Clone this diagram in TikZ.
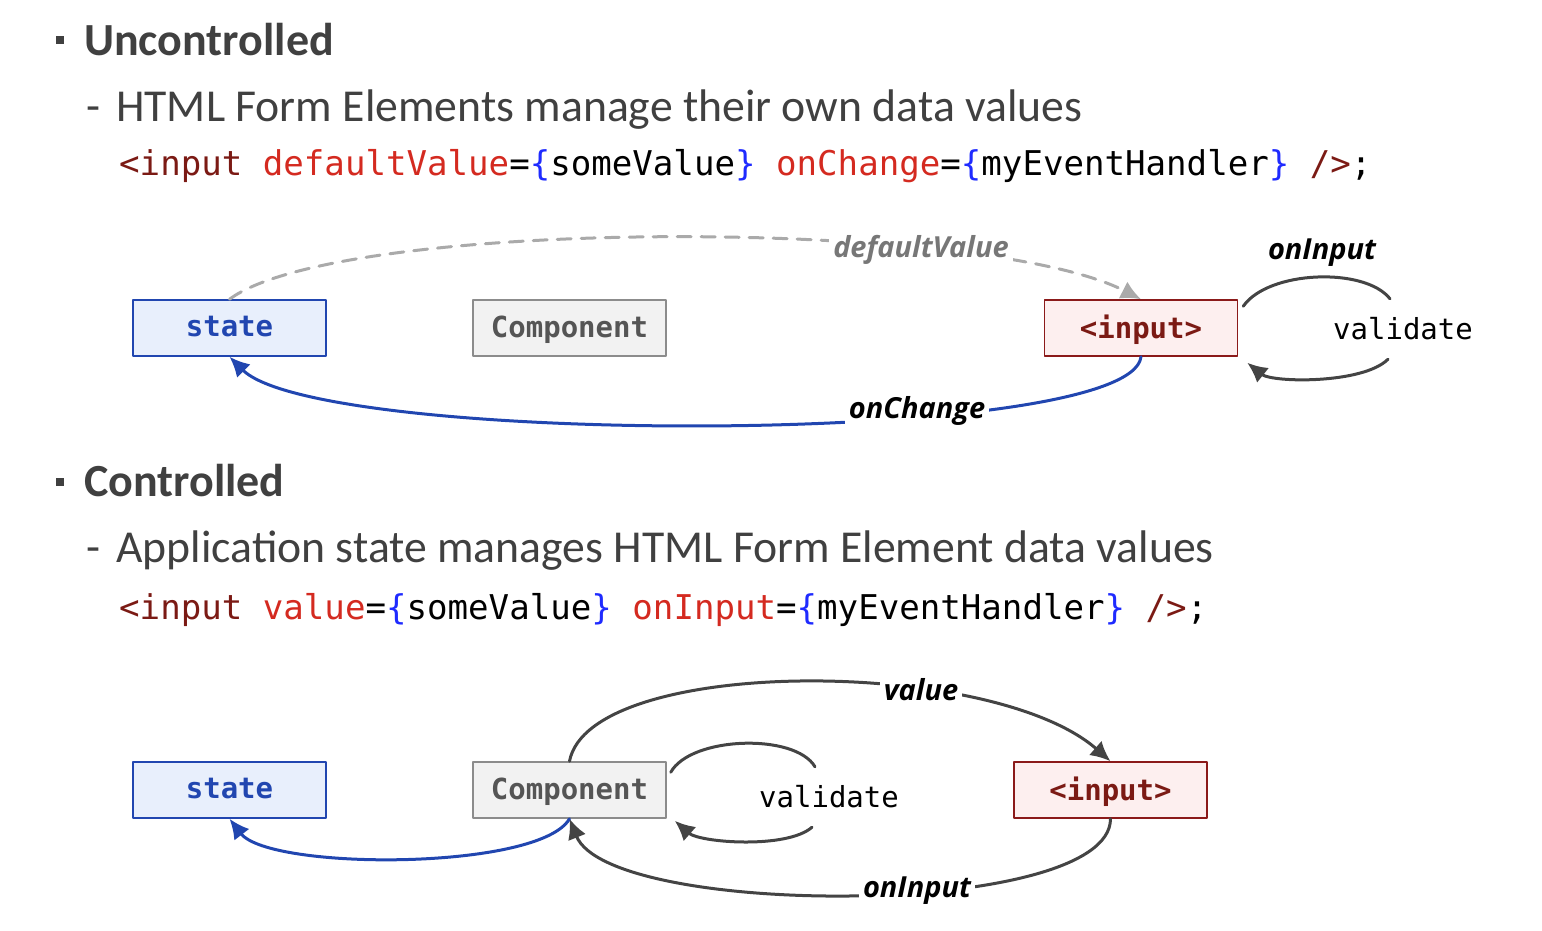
\documentclass[tikz,border=0pt]{standalone}
\usepackage{fontspec}
\setmainfont{Carlito}
\newfontfamily\codefont{DejaVu Sans Mono}
\newfontfamily\lblfont{Open Sans}
\usetikzlibrary{arrows.meta}
\definecolor{txtgray}{HTML}{404040}
\definecolor{tagred}{HTML}{7B1A14}
\definecolor{attrred}{HTML}{D42A20}
\definecolor{bracec}{HTML}{1F2BFF}
\definecolor{stblue}{HTML}{2146B0}
\definecolor{stfill}{HTML}{E8EFFC}
\definecolor{cpfill}{HTML}{F2F2F2}
\definecolor{cpline}{HTML}{8C8C8C}
\definecolor{cptext}{HTML}{555555}
\definecolor{infill}{HTML}{FDEFEF}
\definecolor{inline}{HTML}{8B1A1A}
\definecolor{loopc}{HTML}{444444}
\definecolor{dashc}{HTML}{AAAAAA}
\newcommand{\tg}[1]{\textcolor{tagred}{#1}}
\newcommand{\at}[1]{\textcolor{attrred}{#1}}
\newcommand{\br}[1]{\textcolor{bracec}{#1}}
\begin{document}
\begin{tikzpicture}[x=1pt, y=-1pt, line cap=round, line join=round, >={Latex[length=20pt,width=19pt]},
  head/.style={anchor=base west, inner sep=0, text=txtgray, font=\fontsize{46}{52}\selectfont\bfseries},
  sub/.style={anchor=base west, inner sep=0, text=txtgray, font=\fontsize{45.7}{52}\selectfont},
  code/.style={anchor=base west, inner sep=0, font=\codefont\fontsize{34.1}{40}\selectfont},
  box/.style={draw, line width=1.5pt, minimum width=193pt, minimum height=56pt, inner sep=0,
    text depth=3pt, font=\codefont\bfseries\fontsize{29}{34}\selectfont},
  stbox/.style={box, draw=stblue, fill=stfill, text=stblue},
  cpbox/.style={box, draw=cpline, fill=cpfill, text=cptext},
  inbox/.style={box, draw=inline, fill=infill, text=tagred},
  valnode/.style={minimum height=60pt, inner sep=0, font=\codefont\fontsize{29}{34}\selectfont},
  lbl/.style={fill=white, inner sep=4pt, font=\lblfont\bfseries\itshape\fontsize{29}{34}\selectfont},
  flow/.style={line width=3pt, ->},
  loopline/.style={line width=3pt, draw=loopc}]
\useasboundingbox (0,0) rectangle (1542,930);

% Uncontrolled
\fill[txtgray] (56,36) rectangle (64,44);
\node[head] (h1) at (84,55) {Uncontrolled};
\node[sub] (d1) at (86,121) {-};
\node[sub] (s1) at (116,121) {HTML Form Elements manage their own data values};
\node[code] (c1) at (119,175) {\tg{<input} \at{defaultValue}=\br{\{}someValue\br{\}} \at{onChange}=\br{\{}myEventHandler\br{\}} \tg{/>};};

\node[stbox] (st1) at (229.5,328) {state};
\node[cpbox] (cp1) at (569.5,328) {Component};
\node[inbox] (in1) at (1141,328) {<input>};
\node[valnode] (va1) at (1403,329) {validate};

\draw[flow, dashc, dash pattern=on 14pt off 10pt] (st1.north) .. controls +(110,-82) and +(-160,-82) .. (in1.north);
\node[lbl, text=cptext!80!white] (l1) at (921,250) {defaultValue};
\draw[flow, stblue] (in1.south) .. controls +(-10,90) and +(90,90) .. (st1.south);
\node[lbl] (l2) at (917,411) {onChange};
\draw[loopline] ([shift={(5,7)}]in1.north east) .. controls +(25,-36) and +(-25,-32) .. ([xshift=-13pt]va1.north);
\draw[loopline, ->] ([xshift=-15pt]va1.south) .. controls +(-25,25) and +(25,20) .. ([shift={(9,6)}]in1.south east);
\node[lbl, fill=none] (l3) at (1322,253) {onInput};

% Controlled
\fill[txtgray] (56,478) rectangle (64,486);
\node[head] (h2) at (84,496) {Controlled};
\node[sub] (d2) at (86,562) {-};
\node[sub] (s2) at (116,562) {Application state manages HTML Form Element data values};
\node[code] (c2) at (119,619) {\tg{<input} \at{value}=\br{\{}someValue\br{\}} \at{onInput}=\br{\{}myEventHandler\br{\}} \tg{/>};};

\node[stbox] (st2) at (229.5,790) {state};
\node[cpbox] (cp2) at (569.5,790) {Component};
\node[inbox] (in2) at (1110.5,790) {<input>};
\node[valnode] (va2) at (829,797) {validate};

\draw[flow, loopc] (cp2.north) .. controls +(20,-105) and +(-120,-105) .. (in2.north);
\node[lbl] (l4) at (921,690) {value};
\draw[flow, loopc] (in2.south) .. controls +(0,100) and +(40,100) .. (cp2.south);
\node[lbl] (l5) at (917,891) {onInput};
\draw[flow, stblue] (cp2.south) .. controls +(-30,52) and +(40,52) .. (st2.south);
\draw[loopline] ([shift={(4,11)}]cp2.north east) .. controls +(20,-36) and +(-20,-34) .. ([xshift=-14pt]va2.north);
\draw[loopline, ->] ([xshift=-17pt]va2.south) .. controls +(-25,22) and +(25,22) .. ([shift={(8,2)}]cp2.south east);
\end{tikzpicture}
\end{document}
